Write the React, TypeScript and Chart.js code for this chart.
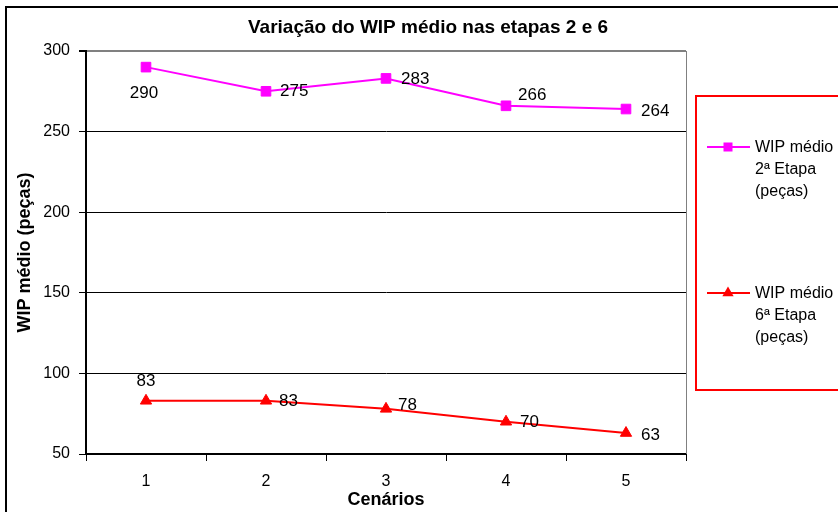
import React, { useEffect, useRef } from 'react';
import { Chart, registerables } from 'chart.js';

Chart.register(...registerables);

const categories = ['1', '2', '3', '4', '5'];
const wipEtapa2 = [290, 275, 283, 266, 264];
const wipEtapa6 = [83, 83, 78, 70, 63];
const yMin = 50;
const yMax = 300;
const yStep = 50;
const chartTitle = 'Variação do WIP médio nas etapas 2 e 6';
const xTitle = 'Cenários';
const yTitle = 'WIP médio (peças)';
const legendEtapa2 = ['WIP médio', '2ª Etapa', '(peças)'];
const legendEtapa6 = ['WIP médio', '6ª Etapa', '(peças)'];

// label placement styles [dx, dy, align]
const labelPos2: [number, number, CanvasTextAlign][] = [
  [-2, 26, 'center'], [14, 0, 'left'], [15, 1, 'left'], [12, -10, 'left'], [15, 2, 'left'],
];
const labelPos6: [number, number, CanvasTextAlign][] = [
  [0, -19, 'center'], [13, 1, 'left'], [12, -4, 'left'], [14, 1, 'left'], [15, 2, 'left'],
];

const FONT = '"Liberation Sans", Arial, sans-serif';
const MAGENTA = '#FF00FF';
const RED = '#FF0000';

function drawMarker(ctx: CanvasRenderingContext2D, style: string, x: number, y: number, color: string) {
  ctx.save();
  ctx.fillStyle = color;
  ctx.strokeStyle = color;
  if (style === 'rect') {
    ctx.fillRect(x - 4.5, y - 4.5, 9, 9);
  } else {
    const r = 6.5;
    ctx.beginPath();
    ctx.moveTo(x, y - r);
    ctx.lineTo(x + r * Math.sin((2 * Math.PI) / 3), y - r * Math.cos((2 * Math.PI) / 3));
    ctx.lineTo(x + r * Math.sin((4 * Math.PI) / 3), y - r * Math.cos((4 * Math.PI) / 3));
    ctx.closePath();
    ctx.fill();
  }
  ctx.restore();
}

const decorPlugin = {
  id: 'decor',
  afterDraw(chart: any) {
    const ctx: CanvasRenderingContext2D = chart.ctx;
    const area = chart.chartArea;
    ctx.save();
    // outer frame
    ctx.strokeStyle = '#000';
    ctx.lineWidth = 2;
    ctx.strokeRect(6, 7, 900, 600);
    // plot right border
    ctx.strokeStyle = '#808080';
    ctx.lineWidth = 1;
    ctx.beginPath();
    ctx.moveTo(area.right + 0.5, area.top);
    ctx.lineTo(area.right + 0.5, area.bottom);
    ctx.stroke();
    // title
    ctx.fillStyle = '#000';
    ctx.font = `bold 19px ${FONT}`;
    ctx.textAlign = 'center';
    ctx.textBaseline = 'middle';
    ctx.fillText(chartTitle, 428, 28);
    // data labels
    ctx.font = `17px ${FONT}`;
    const sets = [
      { data: wipEtapa2, pos: labelPos2 },
      { data: wipEtapa6, pos: labelPos6 },
    ];
    sets.forEach((s, di) => {
      const meta = chart.getDatasetMeta(di);
      meta.data.forEach((pt: any, i: number) => {
        const [dx, dy, al] = s.pos[i];
        ctx.textAlign = al;
        ctx.fillText(String(s.data[i]), pt.x + dx, pt.y + dy);
      });
    });
    // legend
    ctx.strokeStyle = RED;
    ctx.lineWidth = 2;
    ctx.strokeRect(696, 96, 200, 294);
    const items = [
      { lines: legendEtapa2, color: MAGENTA, style: 'rect', y: 147 },
      { lines: legendEtapa6, color: RED, style: 'triangle', y: 293 },
    ];
    ctx.font = `16px ${FONT}`;
    ctx.textAlign = 'left';
    items.forEach((it) => {
      ctx.strokeStyle = it.color;
      ctx.lineWidth = 2;
      ctx.beginPath();
      ctx.moveTo(707, it.y);
      ctx.lineTo(750, it.y);
      ctx.stroke();
      drawMarker(ctx, it.style, 728, it.y, it.color);
      ctx.fillStyle = '#000';
      it.lines.forEach((ln, k) => ctx.fillText(ln, 755, it.y + 1 + k * 22));
    });
    ctx.restore();
  },
};

export default function App() {
  const ref = useRef<HTMLCanvasElement | null>(null);
  useEffect(() => {
    if (!ref.current) return;
    const chart = new Chart(ref.current, {
      type: 'line',
      data: {
        labels: categories,
        datasets: [
          {
            label: legendEtapa2.join(' '),
            data: wipEtapa2,
            borderColor: MAGENTA,
            backgroundColor: MAGENTA,
            borderWidth: 2,
            pointStyle: 'rect',
            pointRadius: 6.8,
            pointBorderWidth: 1,
            tension: 0,
          },
          {
            label: legendEtapa6.join(' '),
            data: wipEtapa6,
            borderColor: RED,
            backgroundColor: RED,
            borderWidth: 2,
            pointStyle: 'triangle',
            pointRadius: 6.5,
            pointBorderWidth: 1,
            tension: 0,
          },
        ],
      },
      options: {
        animation: false,
        responsive: false,
        layout: { padding: { top: 51, right: 152, bottom: 0, left: 0 } },
        plugins: { legend: { display: false }, title: { display: false }, tooltip: { enabled: false } },
        scales: {
          x: {
            offset: true,
            afterFit: (s: any) => { s.height = 58; },
            grid: { display: true, drawOnChartArea: false, drawTicks: true, tickLength: 7, color: '#000', offset: true },
            border: { display: true, color: '#000', width: 2 },
            ticks: { color: '#000', font: { family: FONT, size: 16 }, padding: 11 },
            title: { display: true, text: xTitle, color: '#000', font: { family: FONT, size: 18, weight: 'bold' }, padding: { top: 0, bottom: 1 } },
          },
          y: {
            min: yMin,
            max: yMax,
            afterFit: (s: any) => { s.width = 86; },
            grid: {
              color: (c: any) => (c.tick && c.tick.value === yMax ? '#808080' : '#000'),
              lineWidth: (c: any) => (c.tick && c.tick.value === yMax ? 2 : 1),
              tickColor: '#000',
              tickLength: 7,
            },
            border: { display: true, color: '#000', width: 2 },
            ticks: { stepSize: yStep, color: '#000', font: { family: FONT, size: 16 }, padding: 9 },
            title: { display: true, text: yTitle, color: '#000', font: { family: FONT, size: 18, weight: 'bold' }, padding: { top: 14, bottom: 0 } },
          },
        },
      },
      plugins: [decorPlugin],
    });
    return () => chart.destroy();
  }, []);
  return (
    <div style={{ position: 'absolute', left: 0, top: 0, width: 838, height: 512, background: '#fff' }}>
      <canvas ref={ref} width={838} height={512} style={{ display: 'block' }} />
    </div>
  );
}
